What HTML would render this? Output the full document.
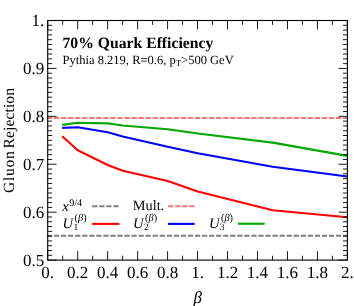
<!DOCTYPE html>
<html><head><meta charset="utf-8"><title>plot</title>
<style>
html,body{margin:0;padding:0;background:#fff;}
body{width:354px;height:306px;overflow:hidden;}
svg{display:block;font-family:"Liberation Serif",serif;text-rendering:geometricPrecision;will-change:transform;}
.tl text{font-size:17px;fill:#000;}
</style></head>
<body>
<svg width="354" height="306" viewBox="0 0 354 306">
<rect width="354" height="306" fill="#fff"/>
<!-- reference dashed lines -->
<line x1="46.9" y1="235.8" x2="347.4" y2="235.8" stroke="#808080" stroke-width="2.0" stroke-dasharray="5.25 1.8"/>
<line x1="46.9" y1="118.0" x2="347.4" y2="118.0" stroke="#ff7676" stroke-width="2.0" stroke-dasharray="5.25 1.8"/>
<!-- curves -->
<polyline points="62.2,136.2 77.7,150.3 107.7,165 122.7,170.7 167.7,180.9 197.7,191.5 272.7,210.3 347.4,217.3" fill="none" stroke="#ff0000" stroke-width="2.1" stroke-linejoin="round"/>
<polyline points="62.2,127.9 77.7,127.2 92.7,129.8 107.7,132.3 122.7,136.4 167.7,146.8 197.7,153.2 272.7,166.8 347.4,176.5" fill="none" stroke="#0000ff" stroke-width="2.1" stroke-linejoin="round"/>
<polyline points="62.2,124.9 77.7,122.8 107.7,123.4 122.7,125.5 167.7,129.2 197.7,133.5 272.7,142.6 347.4,155.9" fill="none" stroke="#00a800" stroke-width="2.1" stroke-linejoin="round"/>
<!-- frame -->
<rect x="47.7" y="20.5" width="299.70" height="239.60" fill="none" stroke="#000" stroke-width="1.1"/>
<path d="M47.70 260.1 v-8.9 M47.70 20.5 v8.9 M62.69 260.1 v-4.4 M62.69 20.5 v4.4 M77.67 260.1 v-8.9 M77.67 20.5 v8.9 M92.66 260.1 v-4.4 M92.66 20.5 v4.4 M107.64 260.1 v-8.9 M107.64 20.5 v8.9 M122.62 260.1 v-4.4 M122.62 20.5 v4.4 M137.61 260.1 v-8.9 M137.61 20.5 v8.9 M152.60 260.1 v-4.4 M152.60 20.5 v4.4 M167.58 260.1 v-8.9 M167.58 20.5 v8.9 M182.56 260.1 v-4.4 M182.56 20.5 v4.4 M197.55 260.1 v-8.9 M197.55 20.5 v8.9 M212.54 260.1 v-4.4 M212.54 20.5 v4.4 M227.52 260.1 v-8.9 M227.52 20.5 v8.9 M242.50 260.1 v-4.4 M242.50 20.5 v4.4 M257.49 260.1 v-8.9 M257.49 20.5 v8.9 M272.47 260.1 v-4.4 M272.47 20.5 v4.4 M287.46 260.1 v-8.9 M287.46 20.5 v8.9 M302.44 260.1 v-4.4 M302.44 20.5 v4.4 M317.43 260.1 v-8.9 M317.43 20.5 v8.9 M332.42 260.1 v-4.4 M332.42 20.5 v4.4 M347.40 260.1 v-8.9 M347.40 20.5 v8.9 M47.7 260.10 h8.9 M347.4 260.10 h-8.9 M47.7 255.31 h4.4 M347.4 255.31 h-4.4 M47.7 250.52 h4.4 M347.4 250.52 h-4.4 M47.7 245.72 h4.4 M347.4 245.72 h-4.4 M47.7 240.93 h4.4 M347.4 240.93 h-4.4 M47.7 236.14 h4.4 M347.4 236.14 h-4.4 M47.7 231.35 h4.4 M347.4 231.35 h-4.4 M47.7 226.56 h4.4 M347.4 226.56 h-4.4 M47.7 221.76 h4.4 M347.4 221.76 h-4.4 M47.7 216.97 h4.4 M347.4 216.97 h-4.4 M47.7 212.18 h8.9 M347.4 212.18 h-8.9 M47.7 207.39 h4.4 M347.4 207.39 h-4.4 M47.7 202.60 h4.4 M347.4 202.60 h-4.4 M47.7 197.80 h4.4 M347.4 197.80 h-4.4 M47.7 193.01 h4.4 M347.4 193.01 h-4.4 M47.7 188.22 h4.4 M347.4 188.22 h-4.4 M47.7 183.43 h4.4 M347.4 183.43 h-4.4 M47.7 178.64 h4.4 M347.4 178.64 h-4.4 M47.7 173.84 h4.4 M347.4 173.84 h-4.4 M47.7 169.05 h4.4 M347.4 169.05 h-4.4 M47.7 164.26 h8.9 M347.4 164.26 h-8.9 M47.7 159.47 h4.4 M347.4 159.47 h-4.4 M47.7 154.68 h4.4 M347.4 154.68 h-4.4 M47.7 149.88 h4.4 M347.4 149.88 h-4.4 M47.7 145.09 h4.4 M347.4 145.09 h-4.4 M47.7 140.30 h4.4 M347.4 140.30 h-4.4 M47.7 135.51 h4.4 M347.4 135.51 h-4.4 M47.7 130.72 h4.4 M347.4 130.72 h-4.4 M47.7 125.92 h4.4 M347.4 125.92 h-4.4 M47.7 121.13 h4.4 M347.4 121.13 h-4.4 M47.7 116.34 h8.9 M347.4 116.34 h-8.9 M47.7 111.55 h4.4 M347.4 111.55 h-4.4 M47.7 106.76 h4.4 M347.4 106.76 h-4.4 M47.7 101.96 h4.4 M347.4 101.96 h-4.4 M47.7 97.17 h4.4 M347.4 97.17 h-4.4 M47.7 92.38 h4.4 M347.4 92.38 h-4.4 M47.7 87.59 h4.4 M347.4 87.59 h-4.4 M47.7 82.80 h4.4 M347.4 82.80 h-4.4 M47.7 78.00 h4.4 M347.4 78.00 h-4.4 M47.7 73.21 h4.4 M347.4 73.21 h-4.4 M47.7 68.42 h8.9 M347.4 68.42 h-8.9 M47.7 63.63 h4.4 M347.4 63.63 h-4.4 M47.7 58.84 h4.4 M347.4 58.84 h-4.4 M47.7 54.04 h4.4 M347.4 54.04 h-4.4 M47.7 49.25 h4.4 M347.4 49.25 h-4.4 M47.7 44.46 h4.4 M347.4 44.46 h-4.4 M47.7 39.67 h4.4 M347.4 39.67 h-4.4 M47.7 34.88 h4.4 M347.4 34.88 h-4.4 M47.7 30.08 h4.4 M347.4 30.08 h-4.4 M47.7 25.29 h4.4 M347.4 25.29 h-4.4 M47.7 20.50 h8.9 M347.4 20.50 h-8.9" stroke="#000" stroke-width="0.9" fill="none"/>
<g class="tl">
<text x="47.70" y="278.2" text-anchor="middle">0.</text>
<text x="77.67" y="278.2" text-anchor="middle">0.2</text>
<text x="107.64" y="278.2" text-anchor="middle">0.4</text>
<text x="137.61" y="278.2" text-anchor="middle">0.6</text>
<text x="167.58" y="278.2" text-anchor="middle">0.8</text>
<text x="197.55" y="278.2" text-anchor="middle">1.</text>
<text x="227.52" y="278.2" text-anchor="middle">1.2</text>
<text x="257.49" y="278.2" text-anchor="middle">1.4</text>
<text x="287.46" y="278.2" text-anchor="middle">1.6</text>
<text x="317.43" y="278.2" text-anchor="middle">1.8</text>
<text x="347.40" y="278.2" text-anchor="middle">2.</text>
<text x="44.2" y="266.00" text-anchor="end">0.5</text>
<text x="44.2" y="218.08" text-anchor="end">0.6</text>
<text x="44.2" y="170.16" text-anchor="end">0.7</text>
<text x="44.2" y="122.24" text-anchor="end">0.8</text>
<text x="44.2" y="74.32" text-anchor="end">0.9</text>
<text x="44.2" y="26.40" text-anchor="end">1.</text>
</g>
<!-- titles -->
<text x="62.5" y="47.8" font-size="15.7" font-weight="bold">70% Quark Efficiency</text>
<text x="62.6" y="64.4" font-size="12.52">Pythia 8.219, R=0.6, p<tspan font-size="8.8" dy="2">T</tspan><tspan dy="-2">&gt;500 GeV</tspan></text>
<!-- axis labels -->
<g transform="translate(13.6 0) rotate(-90)" font-size="15.6">
<text x="-192.95" y="0" letter-spacing="0.68">Gluon</text>
<text x="-148.5" y="0" letter-spacing="0.1">Rejection</text>
</g>
<text x="197.8" y="303.2" font-size="17" font-style="italic" text-anchor="middle">β</text>
<!-- legend -->
<text x="62.2" y="210.5" font-size="14.6"><tspan font-style="italic">x</tspan><tspan font-size="10.2" dx="0.5" dy="-4.5">9/4</tspan></text>
<line x1="92.2" y1="206.2" x2="119.3" y2="206.2" stroke="#808080" stroke-width="2.0" stroke-dasharray="5.25 1.8"/>
<text x="132.8" y="210.4" font-size="14.3">Mult.</text>
<line x1="168.0" y1="206.2" x2="194.9" y2="206.2" stroke="#ff7676" stroke-width="2.0" stroke-dasharray="5.25 1.8"/>

<text x="62.6" y="228.1" font-size="14.6" font-style="italic">U</text>
<text x="74.6" y="221.0" font-size="10.3"><tspan>(</tspan><tspan font-style="italic">β</tspan><tspan>)</tspan></text>
<text x="73.4" y="230.4" font-size="9.6">1</text>
<line x1="92.2" y1="223.9" x2="119.3" y2="223.9" stroke="#ff0000" stroke-width="2.1"/>

<text x="133.1" y="228.1" font-size="14.6" font-style="italic">U</text>
<text x="145.1" y="221.0" font-size="10.3"><tspan>(</tspan><tspan font-style="italic">β</tspan><tspan>)</tspan></text>
<text x="143.9" y="230.4" font-size="9.6">2</text>
<line x1="168.0" y1="223.9" x2="194.7" y2="223.9" stroke="#0000ff" stroke-width="2.1"/>

<text x="209.0" y="228.1" font-size="14.6" font-style="italic">U</text>
<text x="221.0" y="221.0" font-size="10.3"><tspan>(</tspan><tspan font-style="italic">β</tspan><tspan>)</tspan></text>
<text x="219.8" y="230.4" font-size="9.6">3</text>
<line x1="237.9" y1="223.75" x2="264.7" y2="223.75" stroke="#00a800" stroke-width="2.1"/>
</svg>
</body></html>
